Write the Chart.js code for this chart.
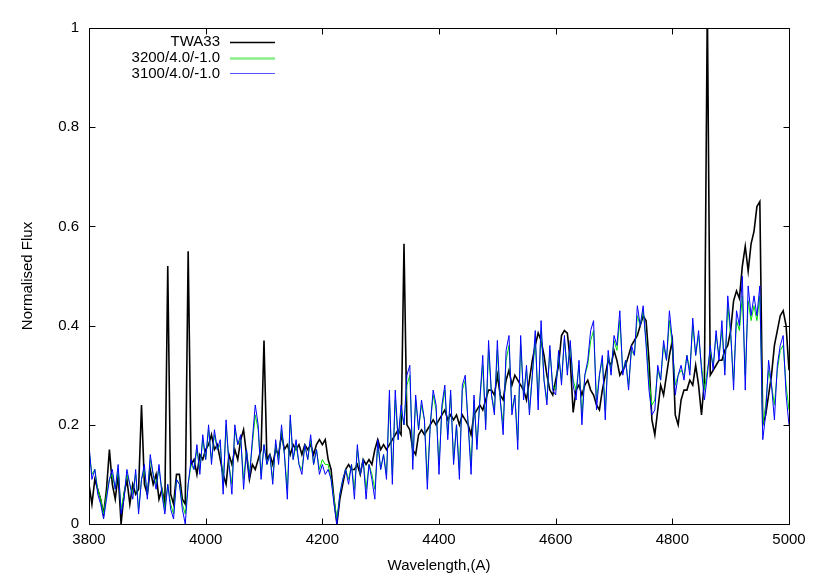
<!DOCTYPE html>
<html><head><meta charset="utf-8">
<script src="https://cdn.jsdelivr.net/npm/chart.js@4.4.0/dist/chart.umd.min.js"></script>
<style>html,body{margin:0;padding:0;background:#fff;} canvas{display:block;}</style>
</head><body>
<canvas id="c" width="830" height="587"></canvas>
<script>
// ---- data ----
const wavelength = [
3800,3805,3810,3815,3820,3825,3830,3835,3840,3845,3850,3855,3860,3865,3870,3875,3880,3885,3890,3895,
3900,3905,3910,3915,3920,3925,3930,3935,3940,3945,3950,3955,3960,3965,3970,3975,3980,3985,3990,3995,
4000,4005,4010,4015,4020,4025,4030,4035,4040,4045,4050,4055,4060,4065,4070,4075,4080,4085,4090,4095,
4100,4105,4110,4115,4120,4125,4130,4135,4140,4145,4150,4155,4160,4165,4170,4175,4180,4185,4190,4195,
4200,4205,4210,4215,4220,4225,4230,4235,4240,4245,4250,4255,4260,4265,4270,4275,4280,4285,4290,4295,
4300,4305,4310,4315,4320,4325,4330,4335,4340,4345,4350,4355,4360,4365,4370,4375,4380,4385,4390,4395,
4400,4405,4410,4415,4420,4425,4430,4435,4440,4445,4450,4455,4460,4465,4470,4475,4480,4485,4490,4495,
4500,4505,4510,4515,4520,4525,4530,4535,4540,4545,4550,4555,4560,4565,4570,4575,4580,4585,4590,4595,
4600,4605,4610,4615,4620,4625,4630,4635,4640,4645,4650,4655,4660,4665,4670,4675,4680,4685,4690,4695,
4700,4705,4710,4715,4720,4725,4730,4735,4740,4745,4750,4755,4760,4765,4770,4775,4780,4785,4790,4795,
4800,4805,4810,4815,4820,4825,4830,4835,4840,4845,4850,4855,4860,4865,4870,4875,4880,4885,4890,4895,
4900,4905,4910,4915,4920,4925,4930,4935,4940,4945,4950,4955,4960,4965,4970,4975,4980,4985,4990,4995,
5000];

const fluxTWA33 = [
0.08,0.04,0.09,0.07,0.05,0.02,0.07,0.15,0.08,0.05,0.10,0.00,0.06,0.09,0.04,0.08,0.06,0.07,0.24,0.08,
0.06,0.11,0.08,0.10,0.05,0.07,0.04,0.52,0.06,0.04,0.10,0.10,0.05,0.04,0.55,0.12,0.13,0.10,0.14,0.13,
0.15,0.16,0.18,0.15,0.16,0.13,0.10,0.08,0.14,0.12,0.15,0.13,0.17,0.19,0.14,0.09,0.12,0.11,0.13,0.15,
0.37,0.13,0.14,0.12,0.15,0.14,0.18,0.15,0.16,0.14,0.16,0.15,0.16,0.14,0.16,0.15,0.16,0.14,0.16,0.17,
0.16,0.17,0.13,0.11,0.05,0.00,0.05,0.08,0.11,0.12,0.11,0.11,0.12,0.10,0.13,0.12,0.13,0.12,0.15,0.17,
0.15,0.16,0.15,0.16,0.17,0.18,0.19,0.18,0.565,0.20,0.19,0.15,0.14,0.18,0.19,0.18,0.19,0.20,0.21,0.20,
0.21,0.22,0.23,0.21,0.22,0.21,0.22,0.20,0.22,0.21,0.20,0.18,0.22,0.23,0.24,0.23,0.25,0.27,0.27,0.26,
0.30,0.26,0.25,0.29,0.31,0.28,0.30,0.29,0.28,0.27,0.25,0.29,0.33,0.36,0.385,0.37,0.34,0.30,0.27,0.26,
0.29,0.32,0.38,0.39,0.385,0.33,0.225,0.27,0.28,0.26,0.28,0.29,0.27,0.26,0.24,0.23,0.27,0.30,0.33,0.32,
0.35,0.33,0.30,0.31,0.32,0.34,0.36,0.37,0.38,0.40,0.42,0.41,0.33,0.21,0.18,0.23,0.28,0.26,0.30,0.34,
0.37,0.22,0.20,0.25,0.27,0.27,0.29,0.28,0.32,0.28,0.22,0.29,1.05,0.30,0.31,0.32,0.33,0.33,0.35,0.36,
0.39,0.45,0.47,0.455,0.52,0.56,0.51,0.565,0.59,0.64,0.65,0.20,0.22,0.26,0.30,0.36,0.39,0.42,0.43,0.40,
0.31];

const flux3200 = [
0.15,0.10,0.11,0.07,0.05,0.02,0.06,0.09,0.10,0.07,0.11,0.03,0.06,0.10,0.08,0.06,0.10,0.03,0.09,0.11,
0.06,0.13,0.10,0.08,0.11,0.07,0.03,0.08,0.04,0.02,0.09,0.08,0.04,0.02,0.08,0.12,0.11,0.15,0.11,0.17,
0.13,0.19,0.13,0.18,0.15,0.16,0.08,0.20,0.12,0.08,0.19,0.16,0.17,0.09,0.15,0.10,0.16,0.22,0.19,0.10,
0.16,0.12,0.14,0.09,0.16,0.13,0.19,0.14,0.07,0.21,0.13,0.16,0.12,0.11,0.16,0.13,0.17,0.12,0.15,0.11,
0.13,0.12,0.12,0.09,0.05,0.01,0.06,0.09,0.11,0.09,0.12,0.07,0.15,0.10,0.13,0.07,0.12,0.10,0.07,0.16,
0.11,0.14,0.10,0.25,0.10,0.25,0.17,0.23,0.20,0.28,0.30,0.13,0.25,0.19,0.24,0.21,0.09,0.20,0.26,0.23,
0.12,0.23,0.27,0.18,0.26,0.13,0.20,0.11,0.27,0.29,0.20,0.12,0.25,0.16,0.25,0.32,0.20,0.35,0.26,0.23,
0.35,0.25,0.20,0.33,0.36,0.23,0.26,0.17,0.36,0.26,0.31,0.23,0.30,0.37,0.25,0.39,0.29,0.25,0.35,0.28,
0.27,0.34,0.29,0.37,0.31,0.36,0.29,0.27,0.32,0.22,0.30,0.32,0.37,0.39,0.25,0.30,0.33,0.23,0.34,0.31,
0.37,0.35,0.41,0.31,0.33,0.28,0.35,0.34,0.42,0.40,0.43,0.37,0.29,0.24,0.25,0.31,0.29,0.36,0.33,0.41,
0.36,0.28,0.30,0.31,0.30,0.34,0.31,0.40,0.34,0.38,0.32,0.27,0.31,0.35,0.32,0.38,0.34,0.39,0.31,0.44,
0.38,0.29,0.41,0.39,0.46,0.30,0.45,0.41,0.44,0.41,0.46,0.20,0.24,0.31,0.28,0.24,0.31,0.35,0.36,0.28,
0.23];

const flux3100 = [
0.16,0.09,0.11,0.06,0.04,0.01,0.05,0.09,0.11,0.07,0.12,0.02,0.05,0.11,0.08,0.05,0.11,0.02,0.09,0.12,
0.05,0.14,0.10,0.07,0.12,0.06,0.02,0.08,0.03,0.01,0.09,0.08,0.03,0.00,0.08,0.13,0.11,0.16,0.10,0.18,
0.13,0.20,0.12,0.19,0.15,0.17,0.06,0.21,0.12,0.06,0.20,0.16,0.18,0.07,0.15,0.09,0.17,0.24,0.20,0.09,
0.16,0.12,0.14,0.08,0.17,0.12,0.20,0.14,0.05,0.22,0.13,0.17,0.12,0.10,0.16,0.13,0.18,0.12,0.15,0.10,
0.12,0.10,0.11,0.09,0.04,0.00,0.06,0.09,0.11,0.08,0.12,0.05,0.16,0.10,0.13,0.05,0.12,0.09,0.05,0.17,
0.11,0.14,0.09,0.27,0.08,0.27,0.17,0.24,0.20,0.30,0.32,0.11,0.26,0.19,0.25,0.21,0.07,0.20,0.27,0.24,
0.10,0.24,0.28,0.17,0.27,0.12,0.20,0.09,0.28,0.30,0.20,0.10,0.26,0.15,0.25,0.34,0.19,0.37,0.26,0.22,
0.37,0.25,0.18,0.35,0.38,0.22,0.26,0.15,0.38,0.25,0.32,0.22,0.30,0.39,0.23,0.41,0.29,0.24,0.36,0.27,
0.26,0.35,0.28,0.38,0.30,0.37,0.28,0.25,0.33,0.20,0.30,0.33,0.39,0.41,0.23,0.30,0.34,0.21,0.35,0.30,
0.38,0.36,0.43,0.30,0.33,0.27,0.36,0.34,0.44,0.40,0.44,0.36,0.27,0.22,0.23,0.32,0.29,0.37,0.33,0.43,
0.37,0.26,0.30,0.32,0.29,0.34,0.30,0.415,0.34,0.39,0.31,0.25,0.30,0.36,0.31,0.39,0.33,0.41,0.30,0.46,
0.39,0.27,0.43,0.40,0.50,0.27,0.48,0.42,0.46,0.42,0.48,0.17,0.22,0.33,0.28,0.21,0.32,0.36,0.38,0.26,
0.20];

const seriesNames = ['TWA33', '3200/4.0/-1.0', '3100/4.0/-1.0'];
const xTicks = [3800, 4000, 4200, 4400, 4600, 4800, 5000];
const yTicks = [0, 0.2, 0.4, 0.6, 0.8, 1];
const xTitle = 'Wavelength,(A)';
const yTitle = 'Normalised Flux';

// ---- styles ----
const FONT = {family: '"Liberation Sans", Arial, Helvetica, sans-serif', size: 15};
const lineColors = ['#000000', '#00dd00', '#0000ff'];
const lineWidths = [1.6, 1, 1];
const legendWidths = [1.5, 2.5, 1];
const legendColors = ['#000000', '#88ee88', '#5555ff'];

const toPoints = arr => wavelength.map((w, i) => ({x: w, y: arr[i]}));
const allSeries = [fluxTWA33, flux3200, flux3100];

const framePlugin = {
  id: 'frame',
  afterDraw(chart) {
    const {ctx, chartArea: a, scales: {x, y}} = chart;
    ctx.save();
    ctx.strokeStyle = '#000';
    ctx.lineWidth = 1;
    ctx.beginPath();
    const L = Math.round(a.left) + 0.5, R = Math.round(a.right) + 0.5;
    const T = Math.round(a.top) + 0.5, B = Math.round(a.bottom) + 0.5;
    ctx.moveTo(L, T); ctx.lineTo(R, T); ctx.lineTo(R, B); ctx.lineTo(L, B); ctx.closePath();
    const tl = 6;
    xTicks.forEach(v => {
      const px = Math.round(x.getPixelForValue(v)) + 0.5;
      ctx.moveTo(px, B); ctx.lineTo(px, B - tl);
      ctx.moveTo(px, T); ctx.lineTo(px, T + tl);
    });
    yTicks.forEach(v => {
      const py = Math.round(y.getPixelForValue(v)) + 0.5;
      ctx.moveTo(L, py); ctx.lineTo(L + tl, py);
      ctx.moveTo(R, py); ctx.lineTo(R - tl, py);
    });
    ctx.stroke();
    // legend (gnuplot style: text right-aligned, sample line to its right)
    ctx.font = FONT.size + 'px ' + FONT.family;
    ctx.textAlign = 'right';
    ctx.textBaseline = 'middle';
    seriesNames.forEach((n, i) => {
      const yy = 42 + i * 15.7;
      ctx.fillStyle = '#000';
      ctx.fillText(n, 220, yy);
      ctx.beginPath();
      ctx.strokeStyle = legendColors[i];
      ctx.lineWidth = legendWidths[i];
      ctx.moveTo(230, Math.round(yy) + 0.5);
      ctx.lineTo(275, Math.round(yy) + 0.5);
      ctx.stroke();
    });
    ctx.restore();
  }
};

new Chart(document.getElementById('c'), {
  type: 'line',
  data: {
    datasets: seriesNames.map((name, i) => ({
      label: name,
      data: toPoints(allSeries[i]),
      borderColor: lineColors[i],
      borderWidth: lineWidths[i],
      pointRadius: 0,
      tension: 0,
      fill: false,
      order: 3 - i
    }))
  },
  options: {
    responsive: false,
    animation: false,
    layout: {padding: {left: 0, top: 28, right: 41, bottom: 0}},
    plugins: {legend: {display: false}, tooltip: {enabled: false}},
    scales: {
      x: {
        type: 'linear', min: 3800, max: 5000,
        afterBuildTicks: s => { s.ticks = xTicks.map(v => ({value: v})); },
        afterFit: s => { s.height = 63; },
        ticks: {callback: v => String(v), font: FONT, color: '#000', padding: 7, maxRotation: 0, autoSkip: false},
        grid: {display: false, drawTicks: false},
        border: {display: false},
        title: {display: true, text: xTitle, font: FONT, color: '#000', padding: {top: 0, bottom: 12}}
      },
      y: {
        type: 'linear', min: 0, max: 1,
        afterBuildTicks: s => { s.ticks = yTicks.map(v => ({value: v})); },
        afterFit: s => { s.width = 89; },
        ticks: {callback: v => String(v), font: FONT, color: '#000', padding: 10},
        grid: {display: false, drawTicks: false},
        border: {display: false},
        title: {display: true, text: yTitle, font: FONT, color: '#000', padding: {top: 19, bottom: 0}}
      }
    }
  },
  plugins: [framePlugin]
});
</script>
</body></html>
